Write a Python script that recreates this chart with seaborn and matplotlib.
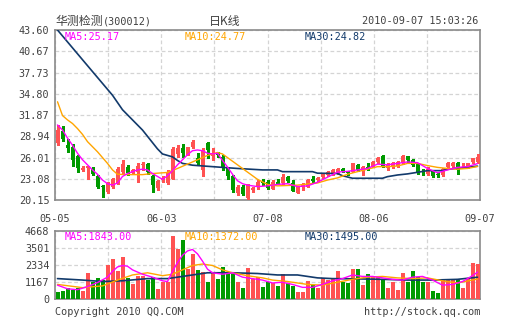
import numpy as np
import matplotlib
matplotlib.use("Agg")
import matplotlib.pyplot as plt
import seaborn as sns

# ---------------- data ----------------
opens = [28.0, 29.6, 27.7, 27.4, 26.2, 24.3, 24.5, 24.4, 23.5, 22.05,
         21.3, 21.9, 22.4, 24.0, 24.7, 23.85, 24.05, 25.0, 25.1, 23.4,
         21.8, 22.9, 22.54, 23.1, 26.5, 27.3, 26.4, 27.4, 26.0, 24.3,
         28.0, 26.2, 26.5, 26.1, 24.5, 23.4, 21.1, 22.0, 20.4, 21.5,
         21.9, 22.8, 22.7, 21.7, 22.68, 22.45, 23.37, 22.45, 21.16, 22.0,
         22.0, 23.1, 22.9, 23.3, 23.6, 23.7, 23.8, 24.4, 24.06, 24.06,
         25.0, 24.2, 24.75, 24.75, 25.4, 26.2, 24.5, 24.8, 24.8, 25.2,
         26.2, 25.7, 25.2, 24.1, 23.8, 24.3, 23.75, 23.6, 24.65, 24.8,
         25.2, 24.5, 24.75, 25.4, 25.4]
closes = [29.8, 28.5, 27.3, 25.6, 24.5, 24.6, 24.8, 23.8, 22.0, 21.95,
          22.45, 23.05, 24.4, 25.1, 23.9, 24.25, 24.9, 25.1, 24.0, 22.2,
          22.8, 23.15, 24.06, 27.2, 27.3, 26.6, 27.4, 28.2, 25.2, 27.0,
          27.0, 26.6, 26.4, 24.7, 23.4, 21.5, 22.0, 21.0, 22.3, 21.8,
          22.7, 22.5, 21.8, 22.7, 22.36, 23.37, 22.77, 21.44, 21.9, 22.2,
          22.9, 22.8, 23.2, 23.8, 24.06, 24.3, 24.4, 24.15, 23.83, 25.2,
          24.3, 24.75, 24.5, 25.4, 26.0, 24.75, 25.0, 25.2, 25.4, 26.2,
          25.7, 25.0, 23.9, 24.0, 24.4, 23.4, 23.65, 24.4, 25.3, 25.3,
          24.3, 24.7, 25.2, 25.9, 26.1]
highs = [30.5, 30.4, 28.5, 27.9, 26.3, 24.8, 24.9, 24.7, 23.6, 22.2,
         22.7, 23.2, 24.7, 25.6, 25.0, 24.4, 25.2, 25.4, 25.3, 23.6,
         22.9, 23.4, 24.3, 27.4, 27.7, 27.9, 27.5, 28.4, 26.6, 27.3,
         28.1, 27.3, 26.8, 26.4, 24.7, 23.6, 22.2, 22.2, 22.4, 22.0,
         22.9, 23.0, 22.9, 22.9, 23.1, 23.8, 23.4, 22.9, 22.1, 22.5,
         23.0, 23.5, 23.3, 23.9, 24.2, 24.4, 24.6, 24.6, 24.2, 25.3,
         25.1, 24.9, 25.2, 25.5, 26.1, 26.3, 25.2, 25.4, 25.5, 26.3,
         26.2, 25.8, 25.2, 24.4, 24.7, 24.3, 24.05, 24.5, 25.4, 25.4,
         25.4, 25.2, 25.3, 26.0, 26.5]
lows = [27.7, 28.3, 26.8, 24.8, 24.0, 24.1, 23.1, 23.6, 21.8, 20.6,
        21.1, 21.8, 22.3, 23.7, 23.6, 23.7, 22.7, 24.3, 23.7, 21.3,
        21.5, 22.7, 22.4, 23.0, 26.1, 26.1, 26.3, 27.3, 25.0, 23.4,
        25.9, 25.7, 26.1, 24.3, 23.1, 21.3, 20.9, 20.8, 20.15, 21.2,
        21.7, 22.2, 21.6, 21.6, 22.3, 22.2, 22.7, 21.4, 21.06, 21.5,
        21.9, 22.7, 22.8, 23.2, 23.5, 23.6, 23.7, 24.0, 23.6, 24.0,
        24.2, 23.6, 24.3, 24.7, 25.3, 24.7, 24.35, 24.5, 24.7, 25.1,
        25.2, 24.8, 23.8, 23.6, 23.6, 23.3, 23.3, 23.5, 24.5, 24.7,
        23.8, 24.5, 24.6, 25.3, 25.3]
volumes = [503, 549, 732, 618, 732, 549, 1762, 1144, 1464, 1304,
           2334, 2746, 1945, 2906, 1419, 1030, 1602, 1579, 1304, 1533,
           686, 1190, 1190, 4347, 3432, 4050, 2059, 3066, 1991, 1876,
           1190, 1830, 1373, 2219, 1762, 1693, 1190, 732, 2105, 1373,
           1533, 847, 1144, 1075, 915, 1693, 1121, 915, 503, 503,
           1236, 961, 732, 1419, 1304, 1419, 1922, 1190, 1075, 2036,
           2036, 961, 1716, 1602, 1533, 1304, 732, 1190, 618, 1808,
           1190, 1922, 1533, 1190, 1144, 572, 389, 1304, 1304, 1304,
           1304, 778, 1464, 2494, 2380]
first_volume_up = False  # first volume bar is drawn green in the original

ma5_x = [0, 1, 2, 3, 4, 5, 6, 7, 8, 9, 10, 11, 12, 13, 14, 15, 16, 17, 18, 19,
         20, 21, 22, 23, 24, 25, 26, 27, 28, 29, 30, 31, 32, 33, 34, 35, 36, 37,
         38, 40, 42, 43, 44, 46, 48, 50, 52, 54, 56, 58, 60, 62, 64, 66, 68, 70,
         72, 74, 76, 77, 78, 80, 82, 84]
ma5_y = [30.5, 29.8, 28.7, 27.7, 26.6, 25.7, 25.0, 24.3, 23.7, 22.9, 22.4, 22.2,
         22.5, 23.4, 23.8, 24.06, 24.3, 24.4, 24.3, 23.8, 23.4, 23.0, 23.5, 24.2,
         25.0, 25.7, 26.4, 26.95, 27.05, 26.95, 26.6, 26.5, 26.6, 25.6, 24.7,
         23.7, 22.8, 22.4, 22.2, 22.0, 22.1, 22.2, 22.3, 22.4, 22.0, 22.1, 22.6,
         23.3, 24.0, 24.1, 24.3, 24.5, 25.1, 25.0, 25.2, 25.4, 25.3, 24.5, 23.9,
         24.1, 24.3, 24.65, 24.75, 25.17]
ma10_x = [0, 1, 2, 3, 4, 5, 6, 7, 8, 9, 10, 11, 12, 14, 17, 19, 21, 22, 24, 26,
          28, 30, 32, 33, 34, 36, 38, 40, 42, 44, 48, 52, 54, 56, 58, 60, 62, 64,
          66, 68, 70, 72, 74, 76, 78, 80, 82, 84]
ma10_y = [33.7, 31.8, 31.2, 30.7, 30.0, 29.2, 28.2, 27.5, 26.8, 26.0, 25.2, 24.3,
          23.7, 23.65, 23.65, 23.8, 23.9, 23.95, 24.5, 25.1, 25.7, 26.3, 26.7,
          26.5, 26.0, 25.0, 24.0, 23.0, 22.3, 22.1, 22.2, 22.5, 22.9, 23.2, 23.7,
          24.06, 24.4, 24.75, 24.75, 24.84, 25.2, 25.2, 24.9, 24.65, 24.5, 24.4,
          24.5, 24.77]
ma30_x = [0, 5, 11, 13, 17, 20, 21, 22, 23, 24, 25, 27, 30, 36, 41, 44, 45, 51,
          52, 56, 57, 59, 65, 66, 68, 70, 72, 74, 77, 78, 81, 84]
ma30_y = [43.6, 39.5, 34.6, 32.6, 29.8, 27.2, 26.5, 26.3, 26.1, 25.6, 25.2, 24.95,
          24.8, 24.5, 24.3, 24.3, 24.06, 24.06, 23.85, 23.8, 23.5, 23.15, 23.15,
          23.37, 23.6, 23.75, 23.97, 24.2, 24.2, 24.38, 24.6, 24.82]

vma5_x = [0, 2, 4, 6, 8, 10, 11, 12, 13, 14, 15, 17, 19, 21, 22, 23, 24, 25, 26,
          27, 28, 29, 30, 31, 33, 35, 37, 39, 41, 43, 45, 47, 49, 51, 53, 55, 57,
          59, 61, 63, 65, 67, 69, 71, 73, 75, 77, 79, 81, 83, 84]
vma5_y = [950, 700, 640, 850, 1130, 1500, 1900, 2200, 2300, 2250, 2000, 1700,
          1500, 1250, 1200, 1900, 2500, 3000, 3300, 3400, 3100, 2600, 2050, 1800,
          1700, 1800, 1500, 1400, 1300, 1100, 1150, 1000, 800, 800, 1000, 1250,
          1400, 1650, 1550, 1550, 1450, 1350, 1300, 1500, 1550, 1300, 950, 1000,
          1200, 1600, 1843]
vma10_x = [0, 5, 9, 12, 15, 18, 21, 23, 25, 27, 29, 31, 33, 35, 38, 41, 43, 46,
           50, 53, 56, 59, 62, 65, 68, 71, 74, 77, 80, 84]
vma10_y = [1000, 780, 900, 1300, 1650, 1800, 1600, 1700, 2000, 2300, 2400, 2300,
           2000, 1800, 1600, 1450, 1300, 1200, 1000, 950, 1150, 1350, 1500, 1550,
           1450, 1400, 1450, 1250, 1100, 1372]
vma30_x = [0, 5, 9, 13, 18, 22, 25, 30, 35, 40, 44, 48, 52, 55, 60, 65, 70, 75,
           80, 84]
vma30_y = [1400, 1300, 1200, 1250, 1400, 1400, 1550, 1800, 1800, 1750, 1650, 1650,
           1450, 1400, 1380, 1350, 1300, 1300, 1350, 1495]

price_ticks = [20.15, 23.08, 26.01, 28.94, 31.87, 34.80, 37.73, 40.67, 43.60]
vol_ticks = [0, 1167, 2334, 3501, 4668]
date_labels = ["05-05", "06-03", "07-08", "08-06", "09-07"]

title_name = "华测检测"
title_code = "(300012)"
title_mid = "日K线"
title_time = "2010-09-07 15:03:26"
ma_labels = ["MA5:25.17", "MA10:24.77", "MA30:24.82"]
vol_labels = ["MA5:1843.00", "MA10:1372.00", "MA30:1495.00"]
footer_left = "Copyright 2010 QQ.COM"
footer_right = "http://stock.qq.com"

# ---------------- style ----------------
sns.set_style("white")
plt.rcParams['font.family'] = ['DejaVu Sans Mono', 'Noto Sans CJK SC']

RED = "#ff5252"
GREEN = "#009a00"
C5 = "#ff00ff"
C10 = "#ffa500"
C30 = "#123a6b"
TXT = "#404040"
FRAME = "#8a8a8a"
GRID = "#d4d4d4"
FS = 7.3

fig = plt.figure(figsize=(5.05, 3.30), dpi=100)
W, H = 505.0, 330.0
ax = fig.add_axes([55 / W, 1 - 200 / H, 425 / W, 170 / H])
axv = fig.add_axes([55 / W, 1 - 299 / H, 425 / W, 68 / H])

o = np.array(opens); c = np.array(closes)
hi = np.array(highs); lo = np.array(lows)
v = np.array(volumes)
n = len(c)
x = np.arange(n)
up = c >= o
cols = np.where(up, RED, GREEN)
vup = up.copy()
vup[0] = first_volume_up
vcols = np.where(vup, RED, GREEN)

xg = -0.5 + np.arange(9) * n / 8.0

for a in (ax, axv):
    a.set_xlim(-0.5, n - 0.5)
    a.set_xticks(xg)
    for s in a.spines.values():
        s.set_color(FRAME)
        s.set_linewidth(1.2)
    a.grid(True, color=GRID, linestyle=(0, (3, 2)), linewidth=0.9)
    a.set_axisbelow(True)
    a.tick_params(length=0, labelsize=FS, colors=TXT, pad=4)

# candles
ax.vlines(x, lo, hi, colors=cols, linewidth=1.0, zorder=3, antialiased=False)
body = np.maximum(np.abs(c - o), 0.1)
ax.bar(x, body, bottom=np.minimum(o, c), width=0.8, color=cols, linewidth=0,
       zorder=4, antialiased=False)

sns.lineplot(x=ma30_x, y=ma30_y, ax=ax, color=C30, linewidth=1.2, zorder=5)
sns.lineplot(x=ma10_x, y=ma10_y, ax=ax, color=C10, linewidth=1.0, zorder=6)
sns.lineplot(x=ma5_x, y=ma5_y, ax=ax, color=C5, linewidth=1.0, zorder=7)

ax.set_ylim(price_ticks[0], price_ticks[-1])
ax.set_yticks(price_ticks)
ax.set_yticklabels([f"{t:.2f}" for t in price_ticks])
lab = [""] * 9
for k, d in enumerate(date_labels):
    lab[2 * k] = d
ax.set_xticklabels(lab)
ax.tick_params(axis='x', pad=10)
ax.set_xlabel(""); ax.set_ylabel("")

# volume
axv.bar(x, v, width=0.8, color=vcols, linewidth=0, zorder=3, antialiased=False)
sns.lineplot(x=vma30_x, y=vma30_y, ax=axv, color=C30, linewidth=1.2, zorder=5)
sns.lineplot(x=vma10_x, y=vma10_y, ax=axv, color=C10, linewidth=1.0, zorder=6)
sns.lineplot(x=vma5_x, y=vma5_y, ax=axv, color=C5, linewidth=1.0, zorder=7)
axv.set_ylim(vol_ticks[0], vol_ticks[-1])
axv.set_yticks(vol_ticks)
axv.set_yticklabels([str(t) for t in vol_ticks])
axv.set_xticklabels([])
axv.set_xlabel(""); axv.set_ylabel("")

# legends-as-text
for lbl, col, xp in zip(ma_labels, [C5, C10, C30], [65, 185, 305]):
    ax.text((xp - 55) / 425, 1 - 7 / 170, lbl, transform=ax.transAxes, color=col,
            fontsize=FS, ha='left', va='center', zorder=10)
for lbl, col, xp in zip(vol_labels, [C5, C10, C30], [65, 185, 305]):
    axv.text((xp - 55) / 425, 1 - 6.5 / 68, lbl, transform=axv.transAxes, color=col,
             fontsize=FS, ha='left', va='center', zorder=10)

fig.text(55 / W, 1 - 21 / H, title_name, color=TXT, fontsize=8.6,
         family=['Noto Sans CJK SC', 'DejaVu Sans'], ha='left', va='center')
fig.text(103 / W, 1 - 21 / H, title_code, color=TXT, fontsize=FS, ha='left', va='center')
fig.text(225 / W, 1 - 21 / H, title_mid, color=TXT, fontsize=8.6,
         family=['Noto Sans CJK SC', 'DejaVu Sans'], ha='center', va='center')
fig.text(478 / W, 1 - 21 / H, title_time, color=TXT, fontsize=FS, ha='right', va='center')
fig.text(55 / W, 1 - 312 / H, footer_left, color=TXT, fontsize=FS, ha='left', va='center')
fig.text(480 / W, 1 - 312 / H, footer_right, color=TXT, fontsize=FS, ha='right', va='center')

fig.savefig("out.png", dpi=100, facecolor="white")
